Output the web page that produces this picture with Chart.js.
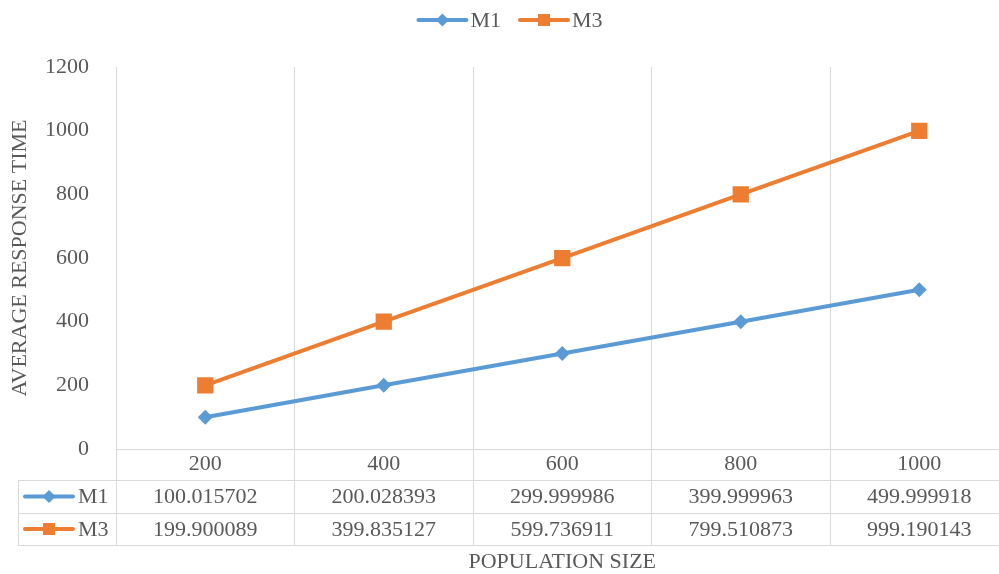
<!DOCTYPE html>
<html>
<head>
<meta charset="utf-8">
<script src="https://cdn.jsdelivr.net/npm/chart.js@4.4.1/dist/chart.umd.min.js"></script>
<style>
  html, body { margin: 0; padding: 0; background: #fff; overflow: hidden; }
  #wrap { width: 1020px; height: 574px; }
</style>
</head>
<body>
<div id="wrap"><canvas id="chart"></canvas></div>
<script>
// population sizes on the x axis, response times per method
const populationSizes = ['200', '400', '600', '800', '1000'];
const m1Times = [100.015702, 200.028393, 299.999986, 399.999963, 499.999918];
const m3Times = [199.900089, 399.835127, 599.736911, 799.510873, 999.190143];
const yMax = 1200;
const yStep = 200;

const serif = '"Liberation Serif", "Times New Roman", serif';
const textColor = '#595959';
const lineGrey = '#d9d9d9';
const blue = '#5b9bd5';
const orange = '#ed7d31';

Chart.defaults.font.family = serif;
Chart.defaults.font.size = 22;
Chart.defaults.color = textColor;

// little line + marker sample, used in the legend and in the data table
function drawKey(ctx, ds, cx, cy) {
    ctx.save();
    ctx.strokeStyle = ds.borderColor;
    ctx.lineWidth = 4;
    ctx.lineCap = 'round';
    ctx.beginPath();
    ctx.moveTo(cx - 24, cy);
    ctx.lineTo(cx + 24, cy);
    ctx.stroke();
    ctx.fillStyle = ds.borderColor;
    Chart.helpers.drawPoint(ctx, {
        pointStyle: ds.pointStyle,
        radius: ds.keyRadius,
        rotation: 0,
        borderWidth: 0
    }, cx, cy);
    ctx.restore();
}

const tablePlugin = {
    id: 'dataTable',
    afterDraw(chart) {
        const ctx = chart.ctx;
        const area = chart.chartArea;
        const xs = chart.scales.x;
        const sets = chart.data.datasets;

        ctx.save();
        ctx.font = '22px ' + serif;
        ctx.fillStyle = textColor;
        ctx.textBaseline = 'middle';

        // legend across the top
        const gap = 18;
        const widths = sets.map(ds => 53 + ctx.measureText(ds.label).width);
        let x = chart.width / 2 - (widths.reduce((a, b) => a + b, 0) + gap * (sets.length - 1)) / 2;
        sets.forEach((ds, i) => {
            drawKey(ctx, ds, x + 25, 20);
            ctx.textAlign = 'left';
            ctx.fillText(ds.label, x + 53, 21);
            x += widths[i] + gap;
        });

        // table rows under the plot
        const tableLeft = 18;
        const headerY = area.bottom + 15.5;
        const rowTops = [area.bottom + 31, area.bottom + 64, area.bottom + 96];

        ctx.strokeStyle = lineGrey;
        ctx.lineWidth = 1;
        ctx.beginPath();
        rowTops.forEach(y => {
            ctx.moveTo(tableLeft, Math.round(y) + 0.5);
            ctx.lineTo(area.right, Math.round(y) + 0.5);
        });
        ctx.moveTo(tableLeft + 0.5, rowTops[0]);
        ctx.lineTo(tableLeft + 0.5, rowTops[2] + 1);
        ctx.stroke();

        ctx.textAlign = 'center';
        populationSizes.forEach((label, i) => {
            ctx.fillText(label, xs.getPixelForValue(i), headerY);
        });

        sets.forEach((ds, r) => {
            const cy = (rowTops[r] + rowTops[r + 1]) / 2;
            drawKey(ctx, ds, tableLeft + 31, cy);
            ctx.textAlign = 'left';
            ctx.fillText(ds.label, tableLeft + 60, cy + 1);
            ctx.textAlign = 'center';
            ds.data.forEach((v, i) => {
                ctx.fillText(v.toFixed(6), xs.getPixelForValue(i), cy + 1);
            });
        });

        // x axis title below the table
        ctx.textAlign = 'center';
        ctx.fillText('POPULATION SIZE', (area.left + area.right) / 2, 562);
        ctx.restore();
    }
};

new Chart(document.getElementById('chart'), {
    type: 'line',
    data: {
        labels: populationSizes,
        datasets: [
            {
                label: 'M1',
                data: m1Times,
                borderColor: blue,
                backgroundColor: blue,
                pointBackgroundColor: blue,
                borderWidth: 4,
                pointStyle: 'rectRot',
                pointRadius: 7.5,
                pointBorderWidth: 0,
                keyRadius: 6.5
            },
            {
                label: 'M3',
                data: m3Times,
                borderColor: orange,
                backgroundColor: orange,
                pointBackgroundColor: orange,
                borderWidth: 4,
                pointStyle: 'rect',
                pointRadius: 11.5,
                pointBorderWidth: 0,
                keyRadius: 8.5
            }
        ]
    },
    options: {
        responsive: true,
        maintainAspectRatio: false,
        animation: false,
        layout: { padding: { top: 67, left: 0, right: 9, bottom: 29 } },
        plugins: {
            legend: { display: false },
            tooltip: { enabled: false }
        },
        scales: {
            x: {
                offset: true,
                grid: {
                    offset: true,
                    color: lineGrey,
                    drawTicks: true,
                    tickLength: 96
                },
                border: { color: lineGrey },
                ticks: { display: false }
            },
            y: {
                min: 0,
                max: yMax,
                afterFit(scale) { scale.width = 116; },
                grid: { display: false },
                border: { display: false },
                ticks: {
                    stepSize: yStep,
                    padding: 19,
                    color: textColor,
                    callback: v => String(v)
                },
                title: {
                    display: true,
                    text: 'AVERAGE RESPONSE TIME',
                    color: textColor,
                    padding: { top: 7, bottom: 0 }
                }
            }
        }
    },
    plugins: [tablePlugin]
});
</script>
</body>
</html>
